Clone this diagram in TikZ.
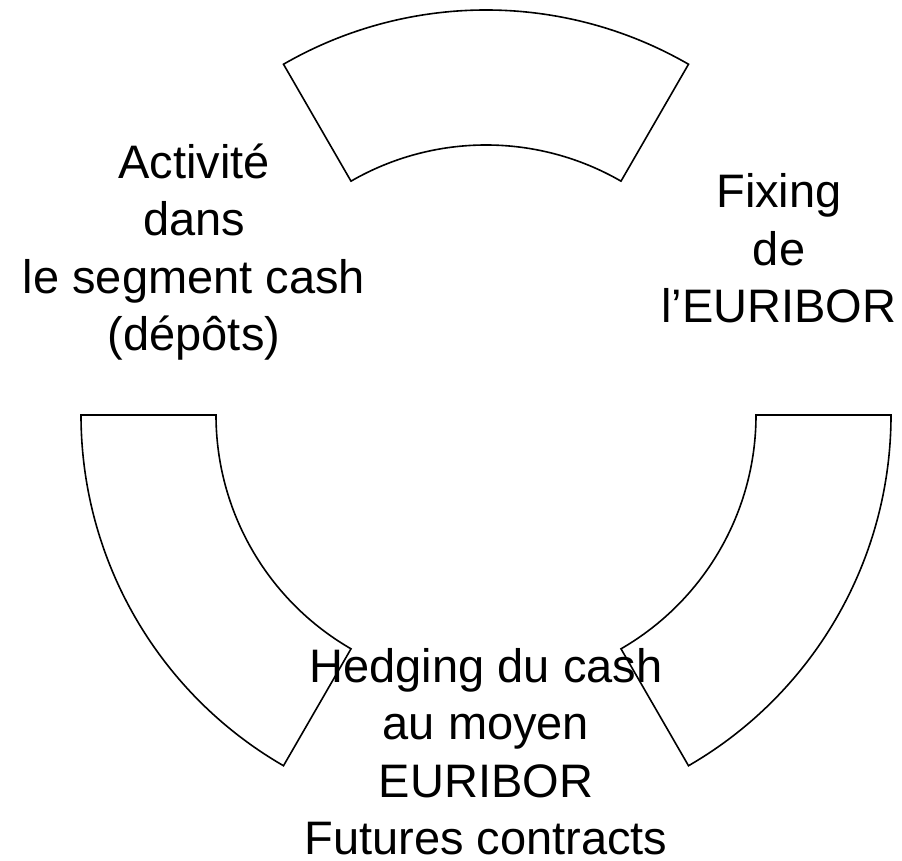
\documentclass[tikz,border=0pt]{standalone}
\usepackage{fontspec}
\setmainfont{Liberation Sans}
\begin{document}
\begin{tikzpicture}[x=1pt,y=1pt,
  seg/.style={draw=black,line width=1.6pt,fill=white,line join=miter},
  lbl/.style={align=center,inner sep=0pt,font=\fontsize{47}{57.5}\selectfont}]
\useasboundingbox (0,0) rectangle (902,861);
\coordinate (c) at (486,446);
% top segment
\draw[seg] ([shift={(60:405)}]c) arc[start angle=60,end angle=120,radius=405]
  -- ([shift={(120:270)}]c) arc[start angle=120,end angle=60,radius=270] -- cycle;
% left segment
\draw[seg] ([shift={(180:405)}]c) arc[start angle=180,end angle=240,radius=405]
  -- ([shift={(240:270)}]c) arc[start angle=240,end angle=180,radius=270] -- cycle;
% right segment
\draw[seg] ([shift={(300:405)}]c) arc[start angle=300,end angle=360,radius=405]
  -- ([shift={(360:270)}]c) arc[start angle=360,end angle=300,radius=270] -- cycle;
\node[lbl,anchor=base] (act) at (194,861-351) {Activité\\dans\\le segment cash\\(dépôts)};
\node[lbl,anchor=base] (fix) at (779,861-323) {Fixing\\de\\l’EURIBOR};
\node[lbl,anchor=base] (hedge) at (486,861-855) {Hedging du cash\\au moyen\\EURIBOR\\Futures contracts};
\end{tikzpicture}
\end{document}
